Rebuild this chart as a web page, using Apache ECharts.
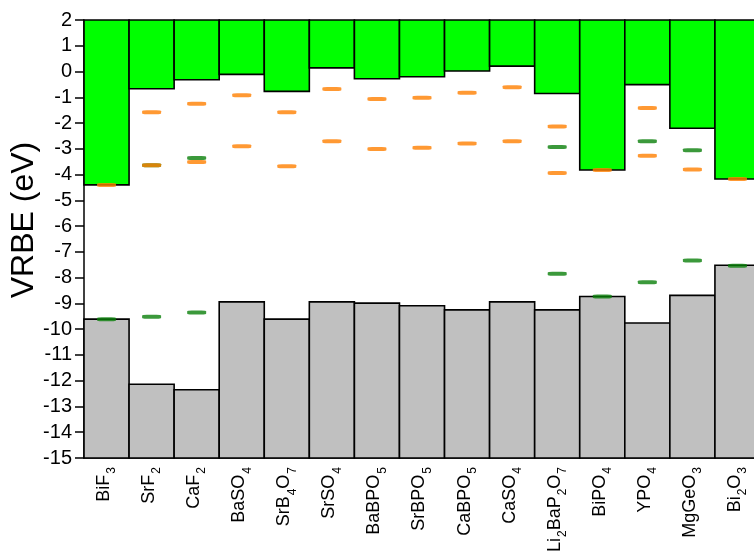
<!DOCTYPE html>
<html>
<head>
<meta charset="utf-8">
<script src="https://cdn.jsdelivr.net/npm/echarts@6/dist/echarts.min.js"></script>
<style>
html,body{margin:0;padding:0;background:#fff;}
#chart{width:754px;height:551px;}
</style>
</head>
<body>
<div id="chart"></div>
<script>
// Categories (digits are rendered as subscripts)
const categories = ['BiF3','SrF2','CaF2','BaSO4','SrB4O7','SrSO4','BaBPO5','SrBPO5','CaBPO5','CaSO4','Li2BaP2O7','BiPO4','YPO4','MgGeO3','Bi2O3'];
// Axis range / tick labels
const yMin = -15;
const yMax = 2;
const yInterval = 1;
// Conduction band bottom (eV)
const cbValues = [-4.40,-0.67,-0.32,-0.11,-0.77,0.14,-0.28,-0.20,0.02,0.21,-0.85,-3.82,-0.51,-2.20,-4.17];
// Valence band top (eV)
const vbValues = [-9.61,-12.14,-12.35,-8.94,-9.61,-8.94,-8.99,-9.09,-9.25,-8.94,-9.25,-8.73,-9.76,-8.69,-7.52];
// Orange levels
const orangeUpper = [null,-1.58,-1.25,-0.92,-1.58,-0.68,-1.07,-1.02,-0.82,-0.61,-2.13,null,-1.42,null,null];
const orangeLower = [-4.40,-3.64,-3.51,-2.90,-3.68,-2.71,-3.01,-2.96,-2.79,-2.71,-3.94,-3.82,-3.27,-3.80,-4.17];
// Green levels
const greenUpper = [null,-3.64,-3.36,null,null,null,null,null,null,null,-2.93,null,-2.71,-3.06,null];
const greenLower = [-9.61,-9.52,-9.35,null,null,null,null,null,null,null,-7.85,-8.73,-8.18,-7.33,-7.54];

const FONT = 'Liberation Sans, Arial, sans-serif';

function bandSeries(name, fromVal, toArr, color) {
  return {
    name: name,
    type: 'custom',
    z: 1,
    data: toArr.map((v, i) => [i, fromVal, v]),
    renderItem: function (params, api) {
      const i = api.value(0);
      const p1 = api.coord([i, api.value(1)]);
      const p2 = api.coord([i, api.value(2)]);
      const w = api.size([1, 0])[0];
      const y = Math.min(p1[1], p2[1]);
      const h = Math.abs(p2[1] - p1[1]);
      return {
        type: 'rect',
        shape: { x: p1[0] - w / 2, y: y, width: w, height: h },
        style: { fill: color, stroke: '#000', lineWidth: 1.6 }
      };
    }
  };
}

function levelSeries(name, arr, color, z) {
  return {
    name: name,
    type: 'scatter',
    z: z,
    symbol: 'roundRect',
    symbolSize: [19, 4],
    itemStyle: { color: color },
    silent: true,
    data: arr.map((v, i) => v === null ? null : [i, v])
  };
}

function fmtLabel(v) {
  return v.split(/(\d+)/).filter(Boolean).map(t => /\d/.test(t) ? '{s|' + t + '}' : '{m|' + t + '}').join('');
}

const chart = echarts.init(document.getElementById('chart'), null, { renderer: 'canvas' });
chart.setOption({
  animation: false,
  backgroundColor: '#fff',
  grid: { left: 84, top: 20, width: 676, bottom: 93, containLabel: false, outerBoundsMode: 'none' },
  xAxis: {
    type: 'category',
    data: categories,
    boundaryGap: true,
    axisLine: { show: true, onZero: false, lineStyle: { color: '#000', width: 1.5 } },
    axisTick: { show: false },
    splitLine: { show: false },
    axisLabel: {
      interval: 0,
      rotate: 90,
      margin: 9,
      formatter: fmtLabel,
      rich: {
        m: { fontSize: 18, fontFamily: FONT, color: '#000', verticalAlign: 'top' },
        s: { fontSize: 12, fontFamily: FONT, color: '#000', verticalAlign: 'bottom', padding: [11, 0, 0, 1] }
      }
    }
  },
  yAxis: {
    type: 'value',
    min: yMin,
    max: yMax,
    interval: yInterval,
    name: 'VRBE (eV)',
    nameLocation: 'middle',
    nameRotate: 90,
    nameGap: 44,
    nameMoveOverlap: false,
    nameTextStyle: { fontSize: 32, fontFamily: FONT, color: '#000', padding: [0, 0, 0, 38] },
    axisLine: { show: true, onZero: false, lineStyle: { color: '#000', width: 1.5 } },
    axisTick: { show: true, inside: false, length: 9, lineStyle: { color: '#000', width: 1.5 } },
    splitLine: { show: false },
    axisLabel: { fontSize: 20, fontFamily: FONT, color: '#000', margin: 12 }
  },
  series: [
    bandSeries('Conduction band', yMax, cbValues, '#00ff00'),
    bandSeries('Valence band', yMin, vbValues, '#c0c0c0'),
    levelSeries('Green upper', greenUpper, '#0a800a', 5),
    levelSeries('Green lower', greenLower, '#0a800a', 5),
    levelSeries('Orange upper', orangeUpper, '#ff8000', 6),
    levelSeries('Orange lower', orangeLower, '#ff8000', 6)
  ]
});
</script>
</body>
</html>
